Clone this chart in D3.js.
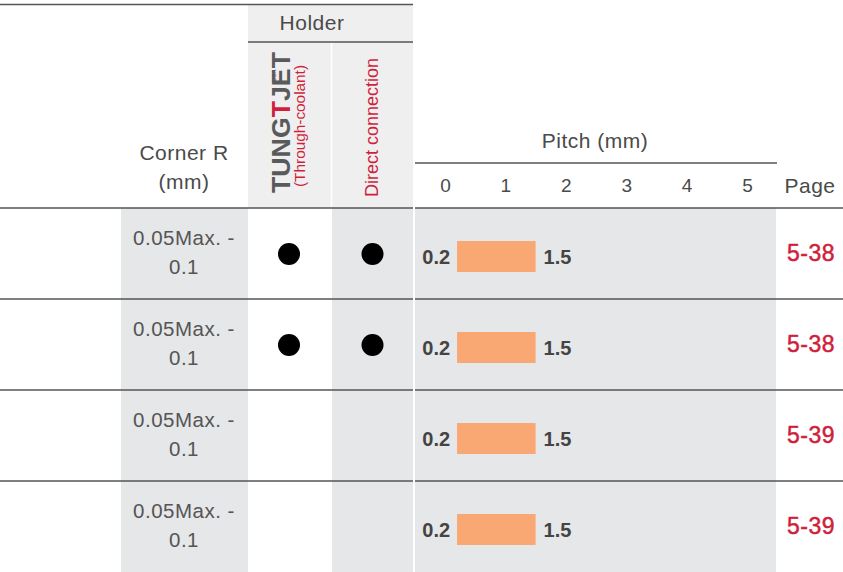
<!DOCTYPE html>
<html>
<head>
<meta charset="utf-8">
<script src="https://cdn.jsdelivr.net/npm/d3@7"></script>
<style>
  body { margin: 0; background: #fff; }
  svg { display: block; font-family: "Liberation Sans", Arial, sans-serif; }
</style>
</head>
<body>
<svg width="843" height="572"></svg>
<script>
  // table data
  var cornerTop = ["0.05Max. -", "0.05Max. -", "0.05Max. -", "0.05Max. -"];
  var cornerBottom = ["0.1", "0.1", "0.1", "0.1"];
  var tungJet = [true, true, false, false];
  var directConn = [true, true, false, false];
  var pitchMin = [0.2, 0.2, 0.2, 0.2];
  var pitchMax = [1.5, 1.5, 1.5, 1.5];
  var pages = ["5-38", "5-38", "5-39", "5-39"];
  var pitchTicks = [0, 1, 2, 3, 4, 5];

  var svg = d3.select("svg");
  var width = +svg.attr("width");
  var height = +svg.attr("height");

  var lineColor = "#555";
  var textColor = "#4a4a4a";
  var red = "#d01f3c";
  var rowGray = "#e6e7e9";
  var headGray = "#efefef";

  var rows = d3.range(pages.length);

  // scales
  var yScale = d3.scaleBand().domain(rows).range([208, height]);
  var xScale = d3.scaleLinear().domain([0, 5]).range([445, 747]);
  var rowH = yScale.bandwidth();

  // backgrounds
  svg.append("rect").attr("x", 248).attr("y", 5).attr("width", 165).attr("height", 203).attr("fill", headGray);
  svg.append("line").attr("x1", 331.5).attr("x2", 331.5).attr("y1", 42).attr("y2", 208)
    .attr("stroke", "#fff").attr("stroke-width", 1.5);
  svg.append("rect").attr("x", 121).attr("y", 208).attr("width", 127).attr("height", height - 208).attr("fill", rowGray);
  svg.append("rect").attr("x", 332).attr("y", 208).attr("width", 81).attr("height", height - 208).attr("fill", rowGray);
  svg.append("rect").attr("x", 415).attr("y", 208).attr("width", 361).attr("height", height - 208).attr("fill", rowGray);

  // header lines
  var hline = function (x1, x2, y) {
    svg.append("line").attr("x1", x1).attr("x2", x2).attr("y1", y).attr("y2", y)
      .attr("stroke", lineColor).attr("stroke-width", 1.5);
  };
  hline(0, 413, 4.5);
  hline(248, 413, 42);
  hline(415, 777, 163);

  // row lines
  svg.selectAll("line.row")
    .data(rows)
    .enter()
    .append("line")
    .attr("class", "row")
    .attr("x1", 0)
    .attr("x2", width)
    .attr("y1", function (d) { return yScale(d); })
    .attr("y2", function (d) { return yScale(d); })
    .attr("stroke", lineColor)
    .attr("stroke-width", 1.5);

  // white gap between holder and pitch
  svg.append("rect").attr("x", 413).attr("y", 0).attr("width", 2).attr("height", height).attr("fill", "#fff");

  // header texts
  var headText = function (txt, x, y) {
    return svg.append("text").text(txt)
      .attr("x", x).attr("y", y)
      .attr("text-anchor", "middle")
      .attr("font-size", 21)
      .attr("letter-spacing", 0.5)
      .attr("fill", textColor);
  };
  headText("Holder", 312, 30);
  headText("Corner R", 184, 160);
  headText("(mm)", 184, 189);
  headText("Pitch (mm)", 595, 148);
  headText("Page", 810, 193);

  // tungjet logo
  var logo = svg.append("text")
    .attr("transform", "translate(290,193) rotate(-90)")
    .attr("font-size", 25)
    .attr("font-weight", "bold")
    .attr("textLength", 141)
    .attr("lengthAdjust", "spacingAndGlyphs");
  logo.append("tspan").text("TUNG").attr("fill", "#5a5a5a");
  logo.append("tspan").text("T").attr("fill", red);
  logo.append("tspan").text("JET").attr("fill", "#5a5a5a");
  svg.append("text").text("USA")
    .attr("transform", "translate(276,82) rotate(-90)")
    .attr("font-size", 6)
    .attr("font-weight", "bold")
    .attr("fill", "#5a5a5a");
  svg.append("text").text("(Through-coolant)")
    .attr("transform", "translate(305,126) rotate(-90)")
    .attr("text-anchor", "middle")
    .attr("font-size", 15)
    .attr("textLength", 122)
    .attr("lengthAdjust", "spacingAndGlyphs")
    .attr("fill", red);

  svg.append("text").text("Direct connection")
    .attr("transform", "translate(378,197) rotate(-90)")
    .attr("font-size", 18)
    .attr("fill", red);

  // pitch axis
  var xAxis = d3.axisTop(xScale).tickValues(pitchTicks).tickSize(0).tickPadding(3)
    .tickFormat(d3.format("d"));
  var xAxisGroup = svg.append("g").attr("transform", "translate(0,195)").call(xAxis);
  xAxisGroup.select(".domain").remove();
  xAxisGroup.selectAll("text")
    .attr("font-size", 19)
    .attr("font-family", "Liberation Sans, Arial, sans-serif")
    .attr("fill", textColor);

  // row groups
  var g = svg.selectAll("g.rowg")
    .data(rows)
    .enter()
    .append("g")
    .attr("class", "rowg")
    .attr("transform", function (d) { return "translate(0," + yScale(d) + ")"; });

  // corner R
  g.append("text")
    .text(function (d) { return cornerTop[d]; })
    .attr("x", 184).attr("y", 37)
    .attr("text-anchor", "middle")
    .attr("font-size", 20.5)
    .attr("letter-spacing", 0.5)
    .attr("fill", "#555");
  g.append("text")
    .text(function (d) { return cornerBottom[d]; })
    .attr("x", 184).attr("y", 66)
    .attr("text-anchor", "middle")
    .attr("font-size", 20.5)
    .attr("letter-spacing", 0.5)
    .attr("fill", "#555");

  // holder dots
  g.filter(function (d) { return tungJet[d]; })
    .append("circle")
    .attr("cx", 289).attr("cy", rowH / 2 + 0.5).attr("r", 11).attr("fill", "#000");
  g.filter(function (d) { return directConn[d]; })
    .append("circle")
    .attr("cx", 372.5).attr("cy", rowH / 2 + 0.5).attr("r", 11).attr("fill", "#000");

  // pitch bars
  g.append("rect")
    .attr("x", function (d) { return xScale(pitchMin[d]); })
    .attr("y", 33)
    .attr("width", function (d) { return xScale(pitchMax[d]) - xScale(pitchMin[d]); })
    .attr("height", 31)
    .attr("fill", "#f9a874");
  g.append("text")
    .text(function (d) { return pitchMin[d]; })
    .attr("x", function (d) { return xScale(pitchMin[d]) - 7; })
    .attr("y", 56)
    .attr("text-anchor", "end")
    .attr("font-size", 20)
    .attr("font-weight", "bold")
    .attr("fill", "#444");
  g.append("text")
    .text(function (d) { return pitchMax[d]; })
    .attr("x", function (d) { return xScale(pitchMax[d]) + 8; })
    .attr("y", 56)
    .attr("font-size", 20)
    .attr("font-weight", "bold")
    .attr("fill", "#444");

  // page refs
  g.append("text")
    .text(function (d) { return pages[d]; })
    .attr("x", 811).attr("y", 53)
    .attr("text-anchor", "middle")
    .attr("font-size", 23)
    .attr("letter-spacing", 0.5)
    .attr("stroke", red)
    .attr("stroke-width", 0.5)
    .attr("fill", red);
</script>
</body>
</html>
